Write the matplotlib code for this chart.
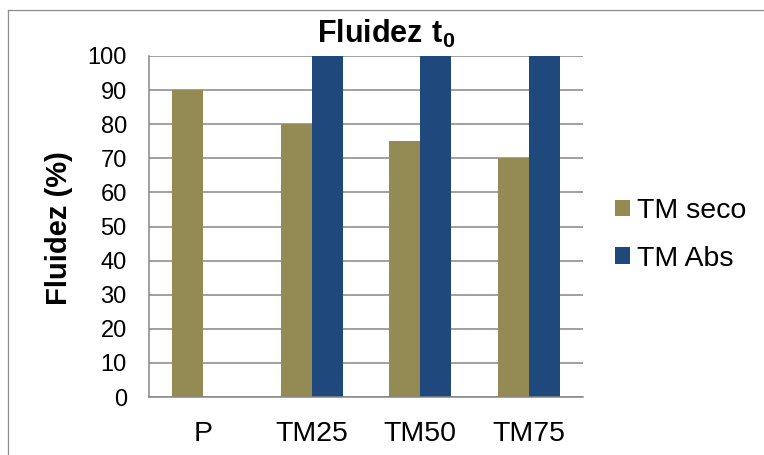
import numpy as np
import matplotlib
matplotlib.use("Agg")
import matplotlib.pyplot as plt
from matplotlib.lines import Line2D

categories = ["P", "TM25", "TM50", "TM75"]
tm_seco = [90, 80, 75, 70]
tm_abs = [None, 100, 100, 100]
series_names = ["TM seco", "TM Abs"]
yticks = list(range(0, 101, 10))

plt.rcParams['font.family'] = ['Liberation Sans', 'DejaVu Sans']
plt.rcParams['mathtext.fontset'] = 'custom'
plt.rcParams['mathtext.bf'] = 'Liberation Sans:bold'
plt.rcParams['mathtext.rm'] = 'Liberation Sans'

W, H = 764, 455
fig = plt.figure(figsize=(W / 100, H / 100), dpi=100)
fig.patch.set_facecolor('white')

left, right, top, bottom = 149, 583, 56, 397
ax = fig.add_axes([left / W, (H - bottom) / H, (right - left) / W, (bottom - top) / H])

c_seco = '#948A54'
c_abs = '#1F497D'
grid_c = '#868686'

x = np.arange(len(categories))
w = 1 / 3.5
b1 = ax.bar(x - w / 2, tm_seco, width=w, color=c_seco, zorder=3, label=series_names[0])
idx = [i for i, v in enumerate(tm_abs) if v is not None]
vals = [tm_abs[i] for i in idx]
b2 = ax.bar(np.array(idx) + w / 2, vals, width=w, color=c_abs, zorder=3, label=series_names[1])

ax.set_xlim(-0.5, len(categories) - 0.5)
ax.set_ylim(0, 100)
ax.set_yticks(yticks)
ax.set_xticks(x)
ax.set_xticklabels(categories, fontsize=20.5)
ax.tick_params(axis='y', length=0, pad=16, labelsize=17)
ax.tick_params(axis='x', length=0, pad=17)
ax.yaxis.grid(True, color=grid_c, linewidth=1.1, zorder=0)
ax.set_axisbelow(True)
for s in ['top', 'right']:
    ax.spines[s].set_visible(False)
for s in ['left', 'bottom']:
    ax.spines[s].set_color(grid_c)
    ax.spines[s].set_linewidth(1.1)
    ax.spines[s].set_zorder(4)

fig.text(386 / W, (H - 43) / H, r"$\mathbf{Fluidez\ t_0}$", ha='center', va='baseline',
         fontsize=22)
fig.text(59 / W, (H - 228) / H, "Fluidez (%)", rotation=90, ha='center', va='center',
         fontsize=21, fontweight='bold')

fig.legend(handles=[b1, b2], labels=series_names, loc='center left',
           bbox_to_anchor=(615 / W, (H - 235) / H), frameon=False, fontsize=20.5,
           handlelength=0.53, handleheight=0.53, handletextpad=0.25,
           labelspacing=0.76, borderpad=0, borderaxespad=0)

bx = 7.5 / W
by = (H - 9.5) / H
fig.add_artist(Line2D([bx, 1], [by, by], transform=fig.transFigure, color='#8c8c8c', linewidth=0.9))
fig.add_artist(Line2D([bx, bx], [0, by], transform=fig.transFigure, color='#8c8c8c', linewidth=0.9))

fig.savefig('out.png', dpi=100, facecolor='white')
